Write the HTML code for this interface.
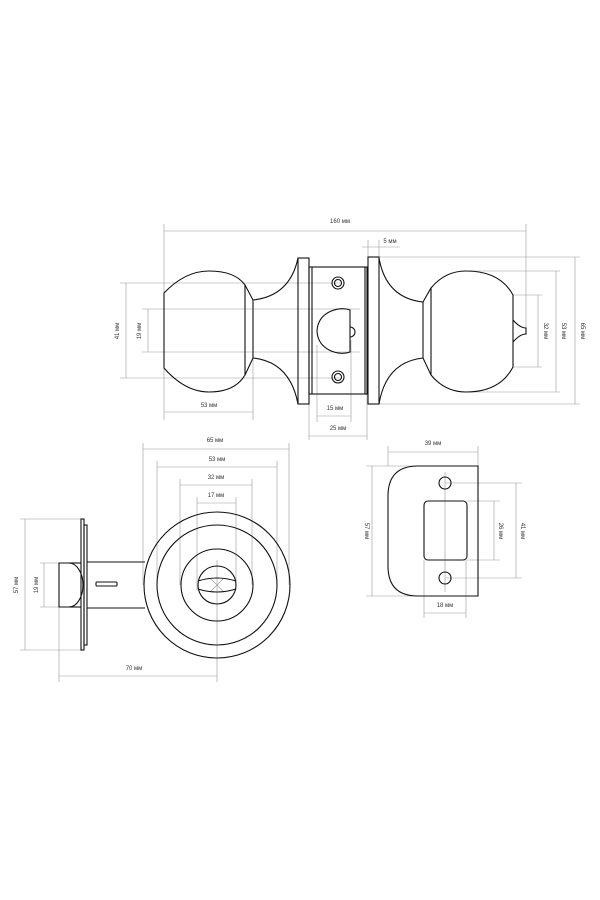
<!DOCTYPE html>
<html><head><meta charset="utf-8"><style>
html,body{margin:0;padding:0;background:#fff;}
svg{display:block;}
text{font-family:"Liberation Sans",sans-serif;font-size:6px;fill:#333;}
.d{stroke:#999;stroke-width:0.6;fill:none;}
.o{stroke:#111;stroke-width:1.1;fill:none;}
</style></head><body>
<svg width="600" height="900" viewBox="0 0 600 900" xmlns="http://www.w3.org/2000/svg">

<g class="d">
<line x1="164" y1="224" x2="164" y2="420"/><line x1="526" y1="224" x2="526" y2="330"/>
<line x1="164" y1="231" x2="526" y2="231"/>
<line x1="120" y1="283" x2="340" y2="283"/><line x1="120" y1="378" x2="340" y2="378"/>
<line x1="126" y1="283" x2="126" y2="378"/>
<line x1="142" y1="309" x2="360" y2="309"/><line x1="142" y1="352" x2="360" y2="352"/>
<line x1="148" y1="309" x2="148" y2="352"/>
<line x1="253" y1="358" x2="253" y2="420"/>
<line x1="164" y1="412" x2="253" y2="412"/>
<line x1="317" y1="345" x2="317" y2="422"/><line x1="351" y1="340" x2="351" y2="422"/>
<line x1="317" y1="416" x2="351" y2="416"/>
<line x1="309" y1="394" x2="309" y2="440"/><line x1="367" y1="394" x2="367" y2="440"/>
<line x1="309" y1="436" x2="367" y2="436"/>
<line x1="368" y1="240" x2="368" y2="258"/><line x1="379" y1="240" x2="379" y2="258"/>
<line x1="362" y1="247" x2="400" y2="247"/>
<line x1="379" y1="257" x2="580" y2="257"/><line x1="379" y1="404" x2="580" y2="404"/>
<line x1="575" y1="257" x2="575" y2="404"/>
<line x1="470" y1="271" x2="560" y2="271"/><line x1="470" y1="392" x2="560" y2="392"/>
<line x1="556" y1="271" x2="556" y2="392"/>
<line x1="513" y1="295" x2="542" y2="295"/><line x1="513" y1="367" x2="542" y2="367"/>
<line x1="538" y1="295" x2="538" y2="367"/>
</g>
<text x="340" y="223" text-anchor="middle">160 мм</text>
<text x="209" y="407" text-anchor="middle">53 мм</text>
<text x="335" y="410" text-anchor="middle">15 мм</text>
<text x="338" y="430" text-anchor="middle">25 мм</text>
<text x="390" y="243" text-anchor="middle">5 мм</text>
<text transform="translate(119,331) rotate(-90)" text-anchor="middle">41 мм</text>
<text transform="translate(141,331) rotate(-90)" text-anchor="middle">19 мм</text>
<text transform="translate(544,331) rotate(90)" text-anchor="middle">32 мм</text>
<text transform="translate(562,331) rotate(90)" text-anchor="middle">53 мм</text>
<text transform="translate(581,331) rotate(90)" text-anchor="middle">65 мм</text>

<g class="o">
<path d="M164,293 Q185,271 209,271 Q235,271 245,285 L253,300 L253,358 L245,375 Q235,392 209,392 Q185,392 164,368 Z"/>
<line x1="245" y1="285" x2="245" y2="375"/>
<path d="M253,300 Q290,296 298,258"/><path d="M253,358 Q290,362 298,404"/>
<rect x="298" y="258" width="11" height="146"/>
<rect x="309" y="267" width="58" height="127"/>
<line x1="312" y1="267" x2="312" y2="394"/><line x1="365" y1="267" x2="365" y2="394"/>
<circle cx="338" cy="283" r="6"/><circle cx="338" cy="283" r="3.5"/>
<circle cx="338" cy="377" r="6"/><circle cx="338" cy="377" r="3.5"/>
<path d="M350,310 C340,306 318,311 317,331 C318,351 340,356 350,352 Z"/>
<path d="M350,327 A5,5 0 0 1 350,337"/>
<rect x="368" y="257" width="11" height="147"/>
<path d="M379,258 Q386,298 423,302"/><path d="M379,404 Q386,362 423,358"/>
<path d="M423,302 L431,288 Q445,271 466,271 Q500,271 513,295 L513,367 Q500,392 466,392 Q445,392 431,375 L423,358 Z"/>
<line x1="431" y1="288" x2="431" y2="375"/>
<path d="M513,320 Q520,328 526,328 L526,334 Q520,334 513,342"/>
</g>

<g class="d">
<line x1="143" y1="443" x2="143" y2="585"/><line x1="289" y1="443" x2="289" y2="585"/>
<line x1="143" y1="449" x2="289" y2="449"/>
<line x1="157" y1="461" x2="157" y2="585"/><line x1="277" y1="461" x2="277" y2="585"/>
<line x1="157" y1="467" x2="277" y2="467"/>
<line x1="180" y1="479" x2="180" y2="585"/><line x1="252" y1="479" x2="252" y2="585"/>
<line x1="180" y1="485" x2="252" y2="485"/>
<line x1="197" y1="497" x2="197" y2="590"/><line x1="236" y1="497" x2="236" y2="590"/>
<line x1="197" y1="503" x2="236" y2="503"/>
<line x1="217" y1="560" x2="217" y2="682"/>
<line x1="59" y1="607" x2="59" y2="682"/>
<line x1="59" y1="676" x2="217" y2="676"/>
<line x1="20" y1="519" x2="84" y2="519"/><line x1="20" y1="650" x2="84" y2="650"/>
<line x1="25" y1="519" x2="25" y2="650"/>
<line x1="40" y1="563" x2="60" y2="563"/><line x1="40" y1="607" x2="60" y2="607"/>
<line x1="44" y1="563" x2="44" y2="607"/>
<line x1="210" y1="578" x2="224" y2="592"/><line x1="224" y1="578" x2="210" y2="592"/>
</g>
<text x="215" y="442" text-anchor="middle">65 мм</text>
<text x="217" y="461" text-anchor="middle">53 мм</text>
<text x="216" y="479" text-anchor="middle">32 мм</text>
<text x="216" y="497" text-anchor="middle">17 мм</text>
<text x="134" y="670" text-anchor="middle">70 мм</text>
<text transform="translate(18,585) rotate(-90)" text-anchor="middle">57 мм</text>
<text transform="translate(38,585) rotate(-90)" text-anchor="middle">19 мм</text>
<g class="o">
<circle cx="217" cy="585" r="73"/><circle cx="217" cy="585" r="60"/>
<circle cx="217" cy="585" r="36"/><circle cx="217" cy="585" r="19"/>
<path d="M198,581 Q217,575 236,581"/><path d="M198,589 Q217,595 236,589"/>
<rect x="81" y="519" width="3" height="131"/><rect x="84" y="525" width="3" height="120"/>
<path d="M87,562 L145,562 M87,608 L145,608"/>
<path d="M59,563 L69,563 A14,22 0 0 1 69,607 L59,607 Z"/>
<line x1="69" y1="563" x2="81" y2="563"/><line x1="69" y1="607" x2="81" y2="607"/>
<rect x="96" y="582" width="21" height="4" rx="1"/>
</g>

<g class="d">
<line x1="388" y1="446" x2="388" y2="466"/><line x1="478" y1="446" x2="478" y2="466"/>
<line x1="388" y1="452" x2="478" y2="452"/>
<line x1="366" y1="466" x2="420" y2="466"/><line x1="366" y1="596" x2="420" y2="596"/>
<line x1="372" y1="466" x2="372" y2="596"/>
<line x1="467" y1="501" x2="500" y2="501"/><line x1="467" y1="560" x2="500" y2="560"/>
<line x1="494" y1="501" x2="494" y2="560"/>
<line x1="445" y1="483" x2="522" y2="483"/><line x1="445" y1="578" x2="522" y2="578"/>
<line x1="516" y1="483" x2="516" y2="578"/>
<line x1="424" y1="560" x2="424" y2="618"/><line x1="466" y1="560" x2="466" y2="618"/>
<line x1="424" y1="613" x2="466" y2="613"/>
<line x1="445" y1="472" x2="445" y2="592"/>
</g>
<text x="433" y="445" text-anchor="middle">39 мм</text>
<text x="445" y="607" text-anchor="middle">18 мм</text>
<text transform="translate(365,531) rotate(90)" text-anchor="middle">57 мм</text>
<text transform="translate(499,531) rotate(90)" text-anchor="middle">26 мм</text>
<text transform="translate(521,531) rotate(90)" text-anchor="middle">41 мм</text>
<g class="o">
<path d="M478,466 L418,466 Q388,466 388,496 L388,566 Q388,596 418,596 L478,596 Z"/>
<circle cx="445" cy="483" r="6"/><circle cx="445" cy="578" r="6"/>
<rect x="424" y="501" width="43" height="59" rx="4"/>
</g>
</svg>
</body></html>
